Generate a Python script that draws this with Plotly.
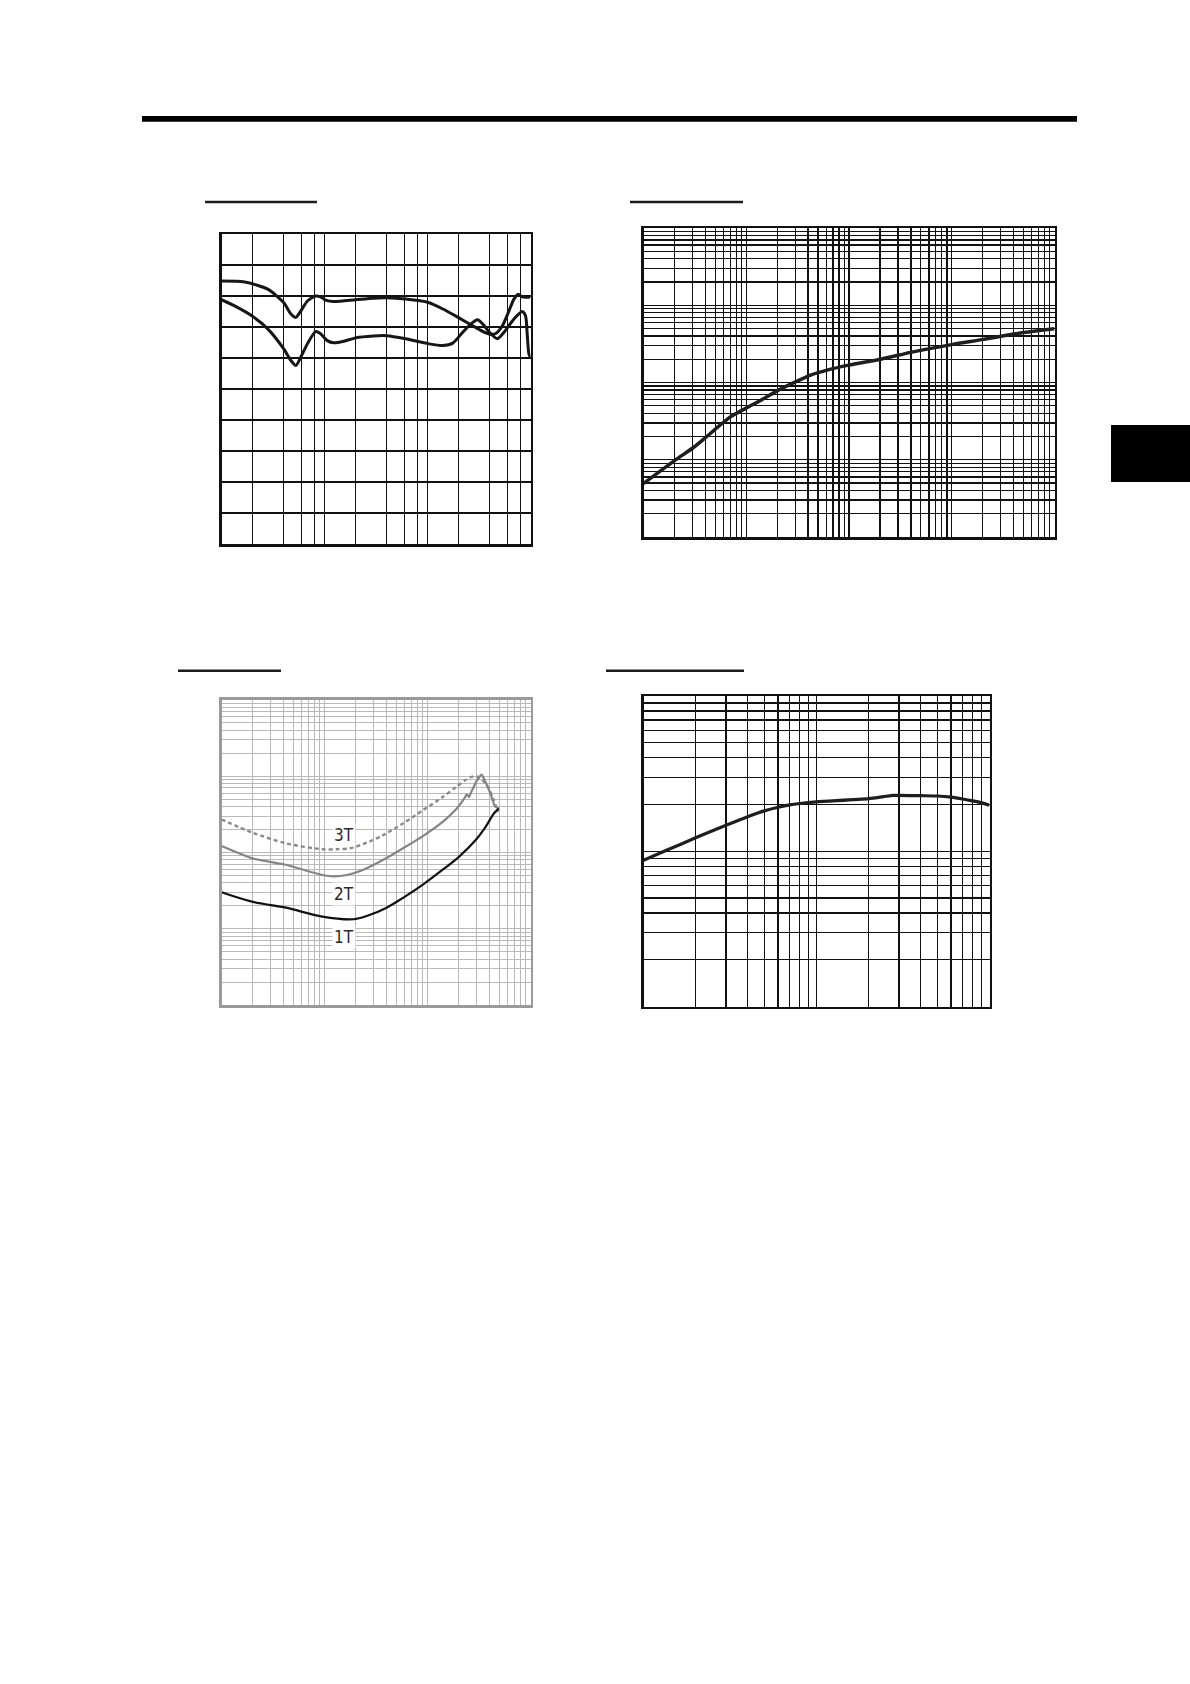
import math
import plotly.graph_objects as go

W, H = 1190, 1684

# ---------------- Chart 1 (top-left): log x (3 decades), linear y ----------------
c1_upper_x = [10, 16.8, 28.1, 40.1, 47.2, 52.7, 58.9, 68.3, 82.0, 91.7, 102.5, 123.3, 200.7, 299, 402,
              612, 1019, 1412, 1983, 2743, 3425, 4028, 4600, 5336, 6183, 6907, 7602, 8310, 10000]
c1_upper_y = [84.8, 84.5, 82.2, 77.9, 74.2, 73.1, 75.2, 78.4, 80.0, 79.7, 78.7, 78.2, 78.8, 79.3, 79.4,
              79.0, 77.9, 75.8, 73.1, 70.4, 68.6, 67.7, 67.9, 70.4, 75.2, 79.0, 80.6, 79.7, 79.7]
c1_lower_x = [10, 13.4, 19.7, 28.1, 40.1, 47.2, 52.7, 58.9, 68.3, 82.0, 91.7, 106.3, 123.3, 153.8, 200.7,
              299, 402, 612, 1019, 1412, 1762, 2198, 2644, 3065, 3425, 4119, 4774, 5534, 6907, 8310,
              8949, 9285, 9636, 10000]
c1_lower_y = [78.8, 76.8, 73.6, 69.4, 63.0, 59.2, 57.6, 60.3, 64.6, 68.5, 67.8, 65.6, 64.9, 65.4, 66.5,
              67.1, 67.2, 66.2, 64.6, 64.0, 64.8, 68.3, 71.0, 72.3, 71.0, 67.8, 66.2, 68.3, 72.6, 75.0,
              73.6, 67.8, 61.4, 60.1]

# ---------------- Chart 2 (top-right): log-log, 4 x 4 decades ----------------
c2_x = [1.0, 2.02, 3.04, 4.06, 5.30, 7.13, 9.96, 15.0, 20.2, 30.5, 42.3, 61.3, 99.3, 204, 421, 996,
        2045, 4200, 10000]
c2_y = [4.93, 9.83, 14.3, 19.6, 26.6, 36.4, 46.6, 62.6, 78.6, 102.5, 124.8, 144.7, 167.8, 200.4, 248.9,
        309.3, 361.7, 427.6, 495.6]

# ---------------- Chart 3 (bottom-left): log-log, curves 1T / 2T / 3T ----------------
c3_1t_x = [1.0, 2.016, 4.217, 9.50, 19.15, 25.7, 40.1, 57.9, 90.2, 140.4,
           203, 293.8, 366.6, 440.6, 492]
c3_1t_y = [30.1, 22.5, 18.85, 14.4, 13.3, 14.66, 18.85, 25.4, 37.8, 59.3,
           88.2, 145.2, 216, 323, 375]
c3_2t_x = [1.0, 2.016, 4.217, 9.50, 12.29, 16.5, 23.9, 37.2, 57.9, 90.2, 140.4,
           188.7, 227, 240.6, 253.5, 263, 304.8, 335.6, 366.6, 409.5, 450.6, 492]
c3_2t_y = [121.4, 83.0, 68.8, 50.6, 48.5, 50.6, 59.3, 79.9, 113.4, 163.8, 251,
           364, 505.6, 575, 530.9, 598, 893, 1045, 830, 587, 401.6, 375]
c3_3t_x = [1.0, 2.016, 4.217, 9.50, 13.24, 17.8, 25.7, 37.2, 57.9, 90.2, 140.4,
           188.7, 235.4, 272.9, 304.8, 340.4, 394.6, 440.6, 485]
c3_3t_y = [270, 180.7, 131.6, 110, 110, 113.4, 134, 168.8, 239.4, 356.5, 530.9,
           715.9, 893, 986, 986, 893, 682, 480.8, 340]
c3_labels = ["3T", "2T", "1T"]
c3_label_x = [15.3, 15.3, 15.3]
c3_label_y = [168.8, 28.9, 7.69]

# ---------------- Chart 4 (bottom-right): log-log, 2 x 2 decades ----------------
c4_x = [1.0, 1.39, 2.0, 3.0, 4.0, 5.0, 6.0, 7.0, 8.0, 10, 20, 27.6, 30, 40, 50, 60, 70, 80, 90, 100]
c4_y = [8.76, 10.25, 12.2, 14.7, 16.7, 18.2, 19.2, 19.9, 20.3, 20.8, 21.8, 22.9, 22.9, 22.8, 22.7,
        22.3, 21.7, 21.1, 20.5, 19.8]


def log_grid(d0, d1, mults=range(1, 10)):
    vals = [m * 10 ** d for d in range(d0, d1) for m in mults]
    vals.append(10 ** d1)
    return vals


def px_dom_x(a, b):
    return [a / W, b / W]


def px_dom_y(top, bottom):
    return [1 - bottom / H, 1 - top / H]


def axis(domain, typ, rng, gridvals, gridcolor, gridwidth, linecolor, linewidth, anchor):
    return dict(domain=domain, type=typ, range=rng, tickmode="array", tickvals=gridvals,
                showticklabels=False, ticks="", showgrid=True, gridcolor=gridcolor,
                gridwidth=gridwidth, showline=True, mirror=True, linecolor=linecolor,
                linewidth=linewidth, zeroline=False, fixedrange=True, anchor=anchor)


fig = go.Figure()

# chart 1 traces
fig.add_trace(go.Scatter(x=c1_upper_x, y=c1_upper_y, mode="lines", xaxis="x", yaxis="y",
                         line=dict(color="#161616", width=3, shape="spline", smoothing=0.7)))
fig.add_trace(go.Scatter(x=c1_lower_x, y=c1_lower_y, mode="lines", xaxis="x", yaxis="y",
                         line=dict(color="#161616", width=3, shape="spline", smoothing=0.7)))
# chart 2
fig.add_trace(go.Scatter(x=c2_x, y=c2_y, mode="lines", xaxis="x2", yaxis="y2",
                         line=dict(color="#1e1e1e", width=3.5, shape="spline", smoothing=0.8)))
# chart 3
fig.add_trace(go.Scatter(x=c3_3t_x, y=c3_3t_y, mode="lines", xaxis="x3", yaxis="y3",
                         line=dict(color="#8a8a8a", width=2.4, dash="4px,3px", shape="spline", smoothing=0.8)))
fig.add_trace(go.Scatter(x=c3_2t_x, y=c3_2t_y, mode="lines", xaxis="x3", yaxis="y3",
                         line=dict(color="#858585", width=2.2, shape="spline", smoothing=0.4)))
fig.add_trace(go.Scatter(x=c3_1t_x, y=c3_1t_y, mode="lines", xaxis="x3", yaxis="y3",
                         line=dict(color="#111111", width=2.2, shape="spline", smoothing=0.9)))
# chart 4
fig.add_trace(go.Scatter(x=c4_x, y=c4_y, mode="lines", xaxis="x4", yaxis="y4",
                         line=dict(color="#1e1e1e", width=3.2, shape="spline", smoothing=0.6)))

c1_xgrid = log_grid(1, 4, mults=(1, 2, 4, 6, 8))
c1_ygrid = list(range(0, 101, 10))

fig.update_layout(
    width=W, height=H, margin=dict(l=0, r=0, t=0, b=0),
    paper_bgcolor="white", plot_bgcolor="white", showlegend=False,
    xaxis=axis(px_dom_x(221.5, 530.5), "log", [1, 4], c1_xgrid, "#111111", 1.4, "#111111", 2.5, "y"),
    yaxis=axis(px_dom_y(234, 544), "linear", [0, 100], c1_ygrid, "#111111", 1.4, "#111111", 2.5, "x"),
    xaxis2=axis(px_dom_x(643.5, 1054.5), "log", [0, 4], log_grid(0, 4), "#111111", 1.3, "#111111", 2.5, "y2"),
    yaxis2=axis(px_dom_y(228, 537), "log", [0, 4], log_grid(0, 4), "#111111", 1.3, "#111111", 2.5, "x2"),
    xaxis3=axis(px_dom_x(221.5, 530.5), "log", [0, 3], log_grid(0, 3), "#b9b9b9", 1, "#9a9a9a", 2.5, "y3"),
    yaxis3=axis(px_dom_y(699.8, 1005), "log", [0, 4], log_grid(0, 4), "#b9b9b9", 1, "#9a9a9a", 2.5, "x3"),
    xaxis4=axis(px_dom_x(643.5, 989.5), "log", [0, 2], log_grid(0, 2), "#111111", 1.3, "#111111", 2.5, "y4"),
    yaxis4=axis(px_dom_y(696, 1006.5), "log", [0, 2], log_grid(0, 2), "#111111", 1.3, "#111111", 2.5, "x4"),
)

# curve labels in chart 3
for txt, lx, ly in zip(c3_labels, c3_label_x, c3_label_y):
    fig.add_annotation(x=math.log10(lx), y=math.log10(ly), xref="x3", yref="y3", text=txt,
                       showarrow=False, bgcolor="white", borderpad=1,
                       font=dict(family="Liberation Sans Narrow, DejaVu Sans Condensed, Arial Narrow, Roboto, sans-serif",
                                 size=17, color="#2a2a2a"))


def rect(x0, y0, x1, y1, color="black"):
    fig.add_shape(type="rect", xref="paper", yref="paper", x0=x0 / W, x1=x1 / W,
                  y0=1 - y1 / H, y1=1 - y0 / H, fillcolor=color, line=dict(width=0), layer="above")


# page header bar and side tab
rect(142, 116, 1077, 121.7)
rect(1111, 425, 1190, 482)
# title underlines
rect(205, 200.8, 317, 203.2, "#1c1c1c")
rect(630, 200.8, 743, 203.2, "#1c1c1c")
rect(178, 669.5, 281, 672, "#1c1c1c")
rect(606, 669.5, 744, 672, "#1c1c1c")

fig.write_html(
    "out.html",
    config={"displayModeBar": False, "staticPlot": True},
    post_script="document.body.style.margin='0';document.body.style.padding='0';"
                "document.body.style.overflow='hidden';",
)
